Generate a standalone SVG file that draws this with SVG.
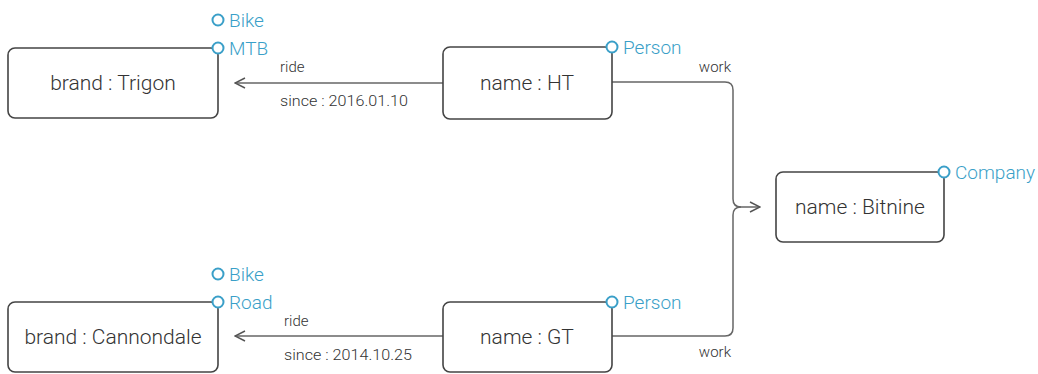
<svg xmlns="http://www.w3.org/2000/svg" width="1038" height="374" viewBox="0 0 1038 374">
<defs>
<style>
.box{fill:#fff;stroke:#444;stroke-width:1.6}
.nt{font-family:Roboto,"Liberation Sans",Arial,sans-serif;font-weight:300;font-size:21px;fill:#333;text-anchor:middle}
.lbl{font-family:Roboto,"Liberation Sans",Arial,sans-serif;font-weight:300;font-size:19px;fill:#3a9fc8}
.dot{fill:#fff;stroke:#3a9fc8;stroke-width:2}
.edge{fill:none;stroke:#666;stroke-width:1.5}
.et{font-family:Roboto,"Liberation Sans",Arial,sans-serif;font-weight:300;font-size:15px;fill:#333}
</style>
<marker id="arr" viewBox="0 0 12 12" refX="11" refY="6" markerWidth="12" markerHeight="12" markerUnits="userSpaceOnUse" orient="auto">
<path d="M1,1 L11,6 L1,11" fill="none" stroke="#555" stroke-width="1.5"/>
</marker>
</defs>
<rect width="1038" height="374" fill="#fff"/>
<g id="connectors">
<line class="edge" x1="443" y1="83" x2="235" y2="83" marker-end="url(#arr)"/>
<text class="et" x="280" y="72">ride</text>
<text class="et" x="280" y="106" textLength="128" lengthAdjust="spacingAndGlyphs">since : 2016.01.10</text>
<line class="edge" x1="443" y1="336" x2="235" y2="336" marker-end="url(#arr)"/>
<text class="et" x="284" y="326">ride</text>
<text class="et" x="284" y="360" textLength="128" lengthAdjust="spacingAndGlyphs">since : 2014.10.25</text>
<path class="edge" d="M612,82 H725 Q733,82 733,90 V199 Q733,207 741,207"/>
<path class="edge" d="M612,336 H725 Q733,336 733,328 V215 Q733,207 741,207 H760" marker-end="url(#arr)"/>
<text class="et" x="731" y="72" text-anchor="end">work</text>
<text class="et" x="731" y="357" text-anchor="end">work</text>
</g>
<g id="trigon">
<rect class="box" x="8" y="48" width="210" height="70" rx="7"/>
<text class="nt" x="113" y="90">brand : Trigon</text>
<circle class="dot" cx="218" cy="20" r="5.5"/>
<text class="lbl" x="229" y="27">Bike</text>
<circle class="dot" cx="218" cy="48" r="5.5"/>
<text class="lbl" x="229" y="55">MTB</text>
</g>
<g id="cannondale">
<rect class="box" x="8" y="302" width="210" height="70" rx="7"/>
<text class="nt" x="113" y="344">brand : Cannondale</text>
<circle class="dot" cx="218" cy="274" r="5.5"/>
<text class="lbl" x="229" y="281">Bike</text>
<circle class="dot" cx="218" cy="302" r="5.5"/>
<text class="lbl" x="229" y="309">Road</text>
</g>
<g id="ht">
<rect class="box" x="443" y="47" width="169" height="72" rx="7"/>
<text class="nt" x="527" y="90">name : HT</text>
<circle class="dot" cx="612" cy="47" r="5.5"/>
<text class="lbl" x="623" y="54">Person</text>
</g>
<g id="gt">
<rect class="box" x="443" y="302" width="169" height="70" rx="7"/>
<text class="nt" x="527" y="344">name : GT</text>
<circle class="dot" cx="612" cy="302" r="5.5"/>
<text class="lbl" x="623" y="309">Person</text>
</g>
<g id="bitnine">
<rect class="box" x="776" y="172" width="168" height="70" rx="7"/>
<text class="nt" x="860" y="214">name : Bitnine</text>
<circle class="dot" cx="944" cy="172" r="5.5"/>
<text class="lbl" x="955" y="179">Company</text>
</g>
</svg>
